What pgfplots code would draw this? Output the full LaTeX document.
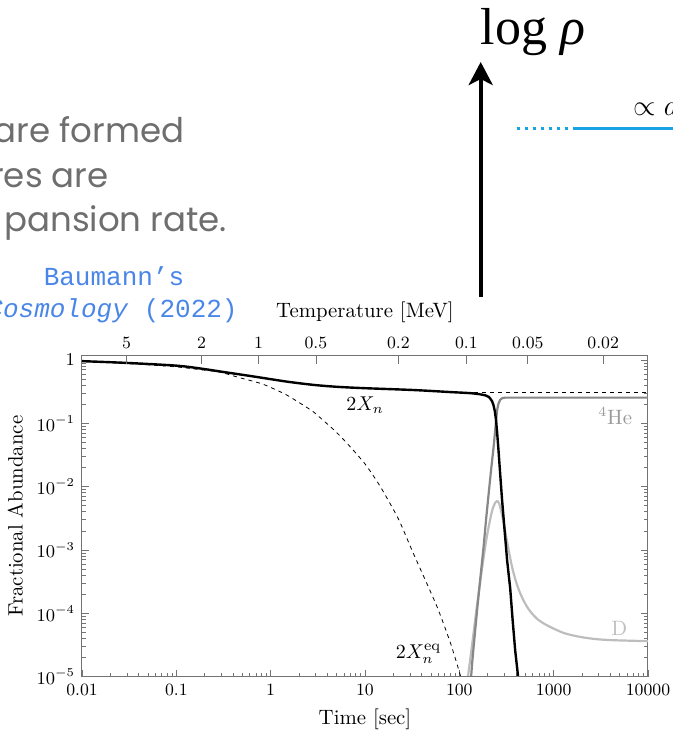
\documentclass[border=0pt]{standalone}
\usepackage{fontspec}
\usepackage{pgfplots}
\pgfplotsset{compat=1.18}
\usetikzlibrary{arrows.meta}
\newfontfamily\slidefont{Poppins}
\newfontfamily\slidemono{Liberation Mono}
\newfontfamily\slideserif{Liberation Serif}
\definecolor{axisgray}{gray}{0.45}
\definecolor{hecol}{gray}{0.53}
\definecolor{dcol}{gray}{0.74}
\definecolor{helab}{gray}{0.6}
\definecolor{dlab}{gray}{0.75}
\definecolor{slidegray}{gray}{0.43}
\definecolor{linkblue}{RGB}{74,134,232}
\definecolor{skyblue}{RGB}{24,163,230}
\begin{document}
\begin{tikzpicture}
\path[use as bounding box] (0,0) rectangle (336.5pt,365pt);
\clip (0,0) rectangle (336.5pt,365pt);
\begin{scope}[x=0.5pt,y=-0.5pt,yshift=365pt]
  \node[anchor=base, inner sep=0, font=\slideserif\fontsize{26}{30}\selectfont] at (533,45) {log \textit{ρ}};
  \draw[line width=2.2pt, -{Stealth[length=11.5pt,width=12pt,inset=3pt]}] (480.7,297) -- (480.7,62);
  \draw[skyblue, line width=1.5pt, dash pattern=on 1.5pt off 2.5pt] (517,128.3) -- (575,128.3);
  \draw[skyblue, line width=1.6pt] (575,128.3) -- (680,128.3);
  \node[anchor=base west, inner sep=0, font=\fontsize{15}{18}\selectfont] at (633,116) {$\propto a$};
  \begin{scope}[every node/.style={anchor=base east, inner sep=0, text=slidegray, font=\slidefont\fontsize{17}{20}\selectfont}]
    \node at (184.5,143) {are formed};
    \node at (109,188) {res are};
    \node at (227.5,232) {pansion rate.};
  \end{scope}
  \node[anchor=base, inner sep=0, text=linkblue, font=\slidemono\fontsize{13}{15}\selectfont] at (114,286) {Baumann’s};
  \node[anchor=base east, inner sep=0, text=linkblue, font=\slidemono\fontsize{13}{15}\selectfont] at (238,318) {\textit{Cosmology} (2022)};
\end{scope}

\begin{axis}[
  at={(41pt,26.65pt)}, anchor=south west, scale only axis,
  width=283pt, height=160.5pt,
  xmode=log, ymode=log,
  xmin=0.01, xmax=10000, ymin=1e-5, ymax=1.17,
  xtick={0.01,0.1,1,10,100,1000,10000},
  xticklabels={0.01,0.1,1,10,100,1000,10000},
  ytick={1e-5,1e-4,1e-3,1e-2,1e-1,1},
  yticklabels={$10^{-5}$,$10^{-4}$,$10^{-3}$,$10^{-2}$,$10^{-1}$,$1$},
  minor xtick={0.02,0.03,0.04,0.05,0.06,0.07,0.08,0.09,0.2,0.3,0.4,0.5,0.6,0.7,0.8,0.9,2,3,4,5,6,7,8,9,20,30,40,50,60,70,80,90,200,300,400,500,600,700,800,900,2000,3000,4000,5000,6000,7000,8000,9000},
  minor ytick={2e-5,3e-5,4e-5,5e-5,6e-5,7e-5,8e-5,9e-5,2e-4,3e-4,4e-4,5e-4,6e-4,7e-4,8e-4,9e-4,2e-3,3e-3,4e-3,5e-3,6e-3,7e-3,8e-3,9e-3,0.02,0.03,0.04,0.05,0.06,0.07,0.08,0.09,0.2,0.3,0.4,0.5,0.6,0.7,0.8,0.9},
  xtick pos=left, ytick pos=both, tick align=inside,
  major tick length=3.5pt, minor tick length=2pt,
  axis line style={axisgray, line width=0.5pt},
  every tick/.style={axisgray, line width=0.4pt},
  tick label style={font=\fontsize{8.6}{10}\selectfont},
  label style={font=\fontsize{10.4}{12}\selectfont},
  xlabel={Time [sec]}, ylabel={Fractional Abundance},
]
% equilibrium 2X_n^eq (dashed)
\addplot[black, line width=0.4pt, dash pattern=on 2pt off 2pt, smooth, tension=0.4] coordinates {
 (0.01,0.95) (0.02,0.91) (0.05,0.84) (0.1,0.78) (0.186,0.70) (0.29,0.645) (0.45,0.535)
 (0.773,0.43) (1.0,0.37) (1.5,0.277) (2.5,0.173) (2.84,0.152) (4.59,0.081) (6.41,0.049)
 (10,0.0229) (14.5,0.0101) (22.6,0.0031) (32.4,9e-4) (57.7,1.3e-4) (80,3.5e-5) (97.9,1.33e-5) (105,9.2e-6)
};
% freeze-out level (dashed)
\addplot[black, line width=0.4pt, dash pattern=on 2pt off 2pt] coordinates {(80,0.305) (10000,0.305)};
% Deuterium
\addplot[dcol, line width=1.1pt, smooth, tension=0.5] coordinates {
 (115,4.6e-6) (122,8.8e-6) (135.7,2.96e-5) (153.3,1.27e-4) (173.2,4.81e-4) (195.7,1.62e-3)
 (221.1,4.01e-3) (239.6,5.57e-3) (249.9,5.92e-3) (264.3,5.45e-3) (286.5,3.35e-3) (318.9,1.43e-3)
 (340,8.6e-4) (360.3,5.6e-4) (385,3.8e-4) (415,2.65e-4) (450,1.95e-4) (500,1.42e-4) (563,1.08e-4)
 (680,8e-5) (847,6.5e-5) (1270,4.92e-5) (1910,4.25e-5) (2871,3.91e-5) (4276,3.77e-5) (10000,3.64e-5)
};
% Helium-4
\addplot[hecol, line width=1.1pt] coordinates {
 (125,3e-6) (130,6e-6) (137,1.7e-5) (144,3.8e-5) (155,1.2e-4) (166,3.3e-4) (180,1.05e-3)
 (192,3e-3) (205,8e-3) (217,1.83e-2) (230,0.04) (240,0.078) (247,0.125) (253,0.17)
 (260,0.205) (271,0.235) (285,0.25) (306,0.255) (10000,0.255)
};
% 2X_n (smooth early part)
\addplot[black, line width=1.2pt, smooth, tension=0.5] coordinates {
 (0.01,0.96) (0.03,0.90) (0.1,0.815) (0.186,0.73) (0.29,0.66) (0.5,0.585) (0.773,0.53)
 (1.5,0.455) (2.84,0.405) (5,0.378) (9.6,0.36) (32.6,0.336) (80,0.312) (130,0.30) (166,0.288)
};
% 2X_n (drop)
\addplot[black, line width=1.2pt] coordinates {
 (166,0.288) (190,0.276) (205,0.262) (212,0.248) (222,0.225) (230,0.195) (238,0.155) (245,0.113)
 (252,0.07) (260,0.038) (272,0.0148) (284,6.1e-3) (300,2.3e-3) (321,6.9e-4) (346,2.5e-4)
 (367,8e-5) (391,2.6e-5) (424,8.8e-6)
};
\node[anchor=base, font=\fontsize{10.4}{12}\selectfont] at (axis cs:10,0.162) {$2X_n$};
\node[anchor=base, text=helab, font=\fontsize{10.4}{12}\selectfont] at (axis cs:4487,0.0974) {$^4$He};
\node[anchor=base, text=dlab, font=\fontsize{10.4}{12}\selectfont] at (axis cs:4955,4.5e-5) {D};
\node[anchor=base, font=\fontsize{10.4}{12}\selectfont] at (axis cs:37,1.96e-5) {$2X_n^{\mathrm{eq}}$};
\end{axis}

\begin{axis}[
  at={(41pt,26.65pt)}, anchor=south west, scale only axis,
  width=283pt, height=160.5pt,
  xmode=log, xmin=0.01, xmax=10000, ymin=0, ymax=1,
  hide y axis,
  xtick pos=right, xticklabel pos=right, xlabel near ticks,
  xminorticks=false,
  xtick={0.0296,0.1845,0.743,3.02,22.6,119,531,3350},
  xticklabels={5,2,1,0.5,0.2,0.1,0.05,0.02},
  tick align=inside, major tick length=4pt,
  axis line style={axisgray, line width=0.5pt},
  every tick/.style={axisgray, line width=0.4pt},
  tick label style={font=\fontsize{8.6}{10}\selectfont},
  label style={font=\fontsize{10.4}{12}\selectfont},
  xlabel={Temperature [MeV]},
]
\addplot[draw=none] coordinates {(1,0.5)};
\end{axis}
\end{tikzpicture}
\end{document}
